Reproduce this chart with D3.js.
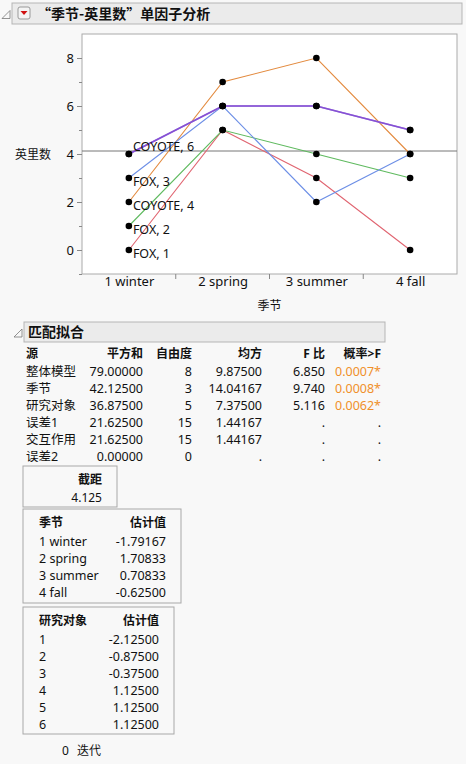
<!DOCTYPE html>
<html lang="zh">
<head>
<meta charset="UTF-8">
<title>季节-英里数 单因子分析</title>
<style>
  body { margin: 0; padding: 0; background: #f8f8f8; }
  svg text { font-family: "Noto Sans", "Noto Sans CJK SC", sans-serif; font-size: 12px; fill: #111; }
  .bold { font-weight: bold; }
</style>
</head>
<body>
<svg id="chart" width="466" height="764"></svg>
<script src="https://cdn.jsdelivr.net/npm/d3@7/dist/d3.min.js"></script>
<script>
// seasons on x, subjects as lines
const seasons = ["1 winter", "2 spring", "3 summer", "4 fall"];
const subjects = ["FOX, 1", "FOX, 2", "COYOTE, 4", "FOX, 3", "COYOTE, 5", "COYOTE, 6"];
const miles = [
  [0, 5, 3, 0],
  [1, 5, 4, 3],
  [2, 7, 8, 4],
  [3, 6, 2, 4],
  [4, 6, 6, 5],
  [4, 6, 6, 5]
];
const lineColors = ["#e06470", "#5fba5f", "#e38a3e", "#6d8fe6", "#a990e2", "#8650d4"];
const grandMean = 4.125;
const yTicks = [0, 2, 4, 6, 8];

// fit table
const anovaHead = ["源", "平方和", "自由度", "均方", "F 比", "概率>F"];
const anovaSource = ["整体模型", "季节", "研究对象", "误差1", "交互作用", "误差2"];
const anovaSS = ["79.00000", "42.12500", "36.87500", "21.62500", "21.62500", "0.00000"];
const anovaDF = ["8", "3", "5", "15", "15", "0"];
const anovaMS = ["9.87500", "14.04167", "7.37500", "1.44167", "1.44167", "."];
const anovaF = ["6.850", "9.740", "5.116", ".", ".", "."];
const anovaP = ["0.0007*", "0.0008*", "0.0062*", ".", ".", "."];
const intercept = "4.125";
const seasonEst = ["-1.79167", "1.70833", "0.70833", "-0.62500"];
const subjectIds = ["1", "2", "3", "4", "5", "6"];
const subjectEst = ["-2.12500", "-0.87500", "-0.37500", "1.12500", "1.12500", "1.12500"];

const svg = d3.select("#chart");

// outline headers
function header(x, y, w, h, label) {
  svg.append("path").attr("d", `M${x - 10},${y + h / 2 + 5} l8,-8 v8 z`)
    .attr("fill", "none").attr("stroke", "#777").attr("stroke-width", 0.8);
  svg.append("rect").attr("x", x).attr("y", y).attr("width", w).attr("height", h)
    .attr("fill", "#ebebeb").attr("stroke", "#b5b5b5");
  svg.append("text").attr("class", "bold").attr("x", x + (label.icon ? 25 : 4)).attr("y", y + h / 2 + 5)
    .style("font-size", "14px").style("font-family", "'Noto Sans CJK SC', sans-serif").text(label.text);
  if (label.icon) {
    svg.append("rect").attr("x", x + 6).attr("y", y + 4).attr("width", 12).attr("height", 12)
      .attr("rx", 2).attr("fill", "#f4f4f4").attr("stroke", "#999");
    svg.append("path").attr("d", `M${x + 8.5},${y + 8} h7 l-3.5,4 z`).attr("fill", "#d01010");
  }
}
header(12, 3, 450, 21, {text: "“季节-英里数”单因子分析", icon: true});

// plot frame
const plot = {left: 82, right: 457, top: 34, bottom: 274};
svg.append("rect").attr("x", plot.left).attr("y", plot.top)
  .attr("width", plot.right - plot.left).attr("height", plot.bottom - plot.top)
  .attr("fill", "#fff").attr("stroke", "#aaa");

const x = d3.scalePoint().domain(seasons).range([plot.left, plot.right]).padding(0.5);
const xBand = d3.scaleBand().domain(seasons).range([plot.left, plot.right]);
const y = d3.scaleLinear().domain([-1, 9]).range([plot.bottom, plot.top]);

// y axis
const yAxis = svg.append("g").attr("transform", `translate(${plot.left},0)`)
  .call(d3.axisLeft(y).tickValues(yTicks).tickSize(5).tickPadding(3).tickFormat(d3.format("d")));
yAxis.select(".domain").remove();
yAxis.selectAll("line").attr("stroke", "#888");
yAxis.selectAll("text").style("font-size", "13px");
svg.append("g").attr("transform", `translate(${plot.left},0)`)
  .call(d3.axisLeft(y).tickValues([-1, 1, 3, 5, 7]).tickSize(3).tickFormat(""))
  .call(g => g.select(".domain").remove())
  .selectAll("line").attr("stroke", "#888");

// x axis
const xAxis = svg.append("g").attr("transform", `translate(0,${plot.bottom})`)
  .call(d3.axisBottom(x).tickSize(0).tickPadding(3));
xAxis.select(".domain").remove();
xAxis.selectAll("text").style("font-size", "13px");
svg.append("g").selectAll("line").data(seasons.slice(1)).join("line")
  .attr("x1", d => xBand(d)).attr("x2", d => xBand(d))
  .attr("y1", plot.bottom).attr("y2", plot.bottom + 5).attr("stroke", "#888");

svg.append("text").attr("x", (plot.left + plot.right) / 2).attr("y", 310)
  .attr("text-anchor", "middle").text("季节");
svg.append("text").attr("x", 15).attr("y", 159).style("font-size", "12px").text("英里数");

// mean line
svg.append("line").attr("x1", plot.left).attr("x2", plot.right)
  .attr("y1", y(grandMean)).attr("y2", y(grandMean))
  .attr("stroke", "#777").attr("stroke-width", 1);

// subject lines
const lineGen = d3.line().x((d, i) => x(seasons[i])).y(d => y(d));
svg.append("g").selectAll("path").data(miles).join("path")
  .attr("d", lineGen).attr("fill", "none")
  .attr("stroke", (d, i) => lineColors[i])
  .attr("stroke-width", (d, i) => i >= 4 ? 1.6 : 1.1);

const pts = miles.flatMap((row, s) => row.map((v, i) => ({s, v, season: seasons[i]})));
svg.append("g").selectAll("circle").data(pts).join("circle")
  .attr("cx", d => x(d.season)).attr("cy", d => y(d.v)).attr("r", 3.3).attr("fill", "#000");

// point labels at winter (COYOTE, 5 hidden under COYOTE, 6)
svg.append("g").selectAll("text").data(subjects.map((s, i) => ({s, i})).filter(d => d.i !== 4)).join("text")
  .attr("x", x(seasons[0]) + 4)
  .attr("y", d => y(miles[d.i][0]) + (d.i === 5 ? -3 : 8))
  .style("font-size", "12.5px")
  .text(d => d.s);

// fit section
header(24, 322, 361, 20, {text: "匹配拟合"});

const colRight = [null, 143, 192, 262, 325, 381];
const headRow = 358;
anovaHead.forEach((h, c) => {
  svg.append("text").attr("class", "bold")
    .attr("x", c === 0 ? 26 : colRight[c]).attr("y", headRow)
    .attr("text-anchor", c === 0 ? "start" : "end").text(h);
});
const rowY = d3.scaleLinear().domain([0, 1]).range([376, 393]);
const cols = [anovaSource, anovaSS, anovaDF, anovaMS, anovaF, anovaP];
cols.forEach((col, c) => {
  svg.append("g").selectAll("text").data(col).join("text")
    .attr("x", c === 0 ? 26 : colRight[c]).attr("y", (d, i) => rowY(i))
    .attr("text-anchor", c === 0 ? "start" : "end")
    .style("fill", (d, i) => c === 5 && d !== "." ? "#f0902a" : "#111")
    .style("font-size", "12.5px")
    .text(d => d);
});

// estimate boxes
function box(x0, y0, w, h) {
  svg.append("rect").attr("x", x0).attr("y", y0).attr("width", w).attr("height", h)
    .attr("fill", "#f8f8f8").attr("stroke", "#a8a8a8");
}
box(23, 466, 94, 41);
svg.append("text").attr("class", "bold").attr("x", 102).attr("y", 484).attr("text-anchor", "end").text("截距");
svg.append("text").attr("x", 102).attr("y", 502).attr("text-anchor", "end").text(intercept);

function estTable(x0, y0, w, h, title, labels, vals, right) {
  box(x0, y0, w, h);
  svg.append("text").attr("class", "bold").attr("x", x0 + 16).attr("y", y0 + 18).text(title);
  svg.append("text").attr("class", "bold").attr("x", right).attr("y", y0 + 18).attr("text-anchor", "end").text("估计值");
  const ry = i => y0 + 37 + i * 17;
  svg.append("g").selectAll("text").data(labels).join("text")
    .attr("x", x0 + 16).attr("y", (d, i) => ry(i)).style("font-size", "12.5px").text(d => d);
  svg.append("g").selectAll("text").data(vals).join("text")
    .attr("x", right).attr("y", (d, i) => ry(i)).attr("text-anchor", "end").style("font-size", "12.5px").text(d => d);
}
estTable(23, 509, 158, 94, "季节", seasons, seasonEst, 166);
estTable(23, 607, 151, 127, "研究对象", subjectIds, subjectEst, 159);

svg.append("text").attr("x", 62).attr("y", 755).text("0");
svg.append("text").attr("x", 77).attr("y", 755).text("迭代");
</script>
</body>
</html>
